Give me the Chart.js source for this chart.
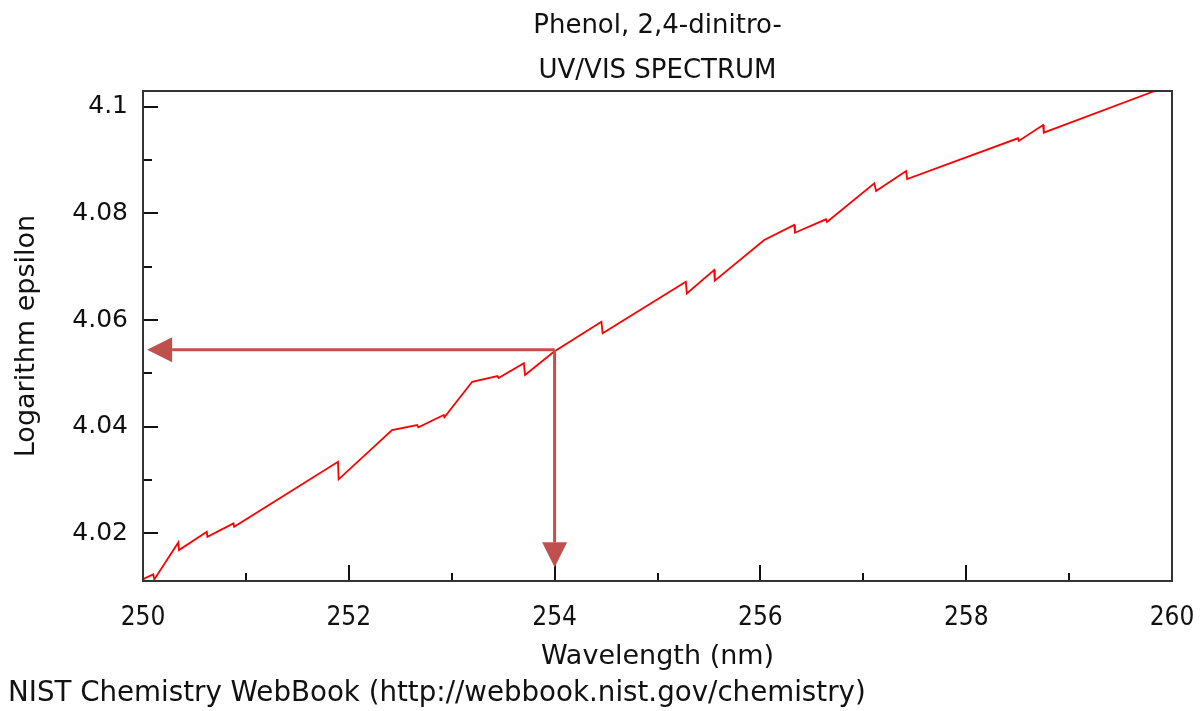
<!DOCTYPE html>
<html>
<head>
<meta charset="utf-8">
<script src="https://cdn.jsdelivr.net/npm/chart.js@4/dist/chart.umd.min.js"></script>
<style>
  html, body { margin: 0; padding: 0; background: #ffffff; }
  #wrap { width: 1201px; height: 711px; }
</style>
</head>
<body>
<div id="wrap"><canvas id="c" width="1201" height="711"></canvas></div>
<script>
// ---- Data ----
const titleLines = ['Phenol, 2,4-dinitro-', 'UV/VIS SPECTRUM'];
const xAxisTitle = 'Wavelength (nm)';
const yAxisTitle = 'Logarithm epsilon';
const footerText = 'NIST Chemistry WebBook (http://webbook.nist.gov/chemistry)';

const wavelength = [
  250.000, 250.013, 250.100, 250.110, 250.343, 250.350, 250.620, 250.626,
  250.879, 250.886, 251.895, 251.901, 252.420, 252.664, 252.676, 252.923,
  252.929, 253.199, 253.445, 253.455, 253.701, 253.713, 253.993, 254.455,
  254.467, 255.275, 255.285, 255.550, 255.557, 256.037, 256.329, 256.336,
  256.637, 256.647, 257.107, 257.124, 257.416, 257.426, 258.503, 258.511,
  258.747, 258.754, 259.833
];
const logEpsilon = [
  4.01117, 4.01149, 4.01224, 4.01130, 4.01825, 4.01681, 4.02024, 4.01930,
  4.02182, 4.02118, 4.03339, 4.03008, 4.03934, 4.04028, 4.03985, 4.04216,
  4.04173, 4.04841, 4.04948, 4.04911, 4.05187, 4.04967, 4.05405, 4.05968,
  4.05750, 4.06719, 4.06501, 4.06939, 4.06738, 4.07502, 4.07784, 4.07639,
  4.07891, 4.07840, 4.08567, 4.08423, 4.08798, 4.08648, 4.09412, 4.09362,
  4.09662, 4.09517, 4.10300
];

const xTicks = [250, 251, 252, 253, 254, 255, 256, 257, 258, 259, 260];
const yTicks = [4.02, 4.03, 4.04, 4.05, 4.06, 4.07, 4.08, 4.09, 4.10];
const xRange = [250, 260];
const yRange = [4.011, 4.103];

// marker (crosshair arrows) : point on the curve and arrow tips
const markerWavelength = [254];
const markerLogEpsilon = [4.0544];
const arrowTipWavelength = [250.04];
const arrowTipLogEpsilon = [4.0136];

// ---- Styling ----
const FONT = '"DejaVu Sans", Verdana, sans-serif';
const FONT_COND = '"DejaVu Sans Condensed", "DejaVu Sans", sans-serif';
const AXIS_COLOR = '#333333';
const ARROW_COLOR = '#c0504d';

const points = wavelength.map((w, i) => ({ x: w, y: logEpsilon[i] }));

const isMajorX = v => Math.round(v) % 2 === 0;
const isMajorY = v => Math.round(v * 100) % 2 === 0;

const framePlugin = {
  id: 'frameAndDecor',
  afterDraw(chart) {
    const ctx = chart.ctx;
    const a = chart.chartArea;
    const xs = chart.scales.x, ys = chart.scales.y;
    ctx.save();

    // inward tick marks
    ctx.strokeStyle = '#111111';
    ctx.lineWidth = 2;
    xs.ticks.forEach(t => {
      const px = Math.round(xs.getPixelForValue(t.value));
      const len = isMajorX(t.value) ? 16 : 8;
      ctx.beginPath();
      ctx.moveTo(px, a.bottom);
      ctx.lineTo(px, a.bottom - len);
      ctx.stroke();
    });
    ys.ticks.forEach(t => {
      const py = Math.round(ys.getPixelForValue(t.value));
      const len = isMajorY(t.value) ? 15 : 9;
      ctx.beginPath();
      ctx.moveTo(a.left, py);
      ctx.lineTo(a.left + len, py);
      ctx.stroke();
    });

    // frame
    ctx.strokeStyle = AXIS_COLOR;
    ctx.lineWidth = 2;
    ctx.strokeRect(a.left, a.top, a.right - a.left, a.bottom - a.top);

    // marker arrows
    for (let i = 0; i < markerWavelength.length; i++) {
      const mx = xs.getPixelForValue(markerWavelength[i]);
      const my = ys.getPixelForValue(markerLogEpsilon[i]);
      const hx = xs.getPixelForValue(arrowTipWavelength[i]);
      const vy = ys.getPixelForValue(arrowTipLogEpsilon[i]);
      const head = 25, half = 12.5;
      ctx.strokeStyle = ARROW_COLOR;
      ctx.fillStyle = ARROW_COLOR;
      ctx.lineWidth = 3;
      ctx.beginPath();
      ctx.moveTo(mx, my);
      ctx.lineTo(hx + head, my);
      ctx.moveTo(mx, my);
      ctx.lineTo(mx, vy - head);
      ctx.stroke();
      ctx.beginPath();
      ctx.moveTo(hx, my);
      ctx.lineTo(hx + head, my - half);
      ctx.lineTo(hx + head, my + half);
      ctx.closePath();
      ctx.fill();
      ctx.beginPath();
      ctx.moveTo(mx, vy);
      ctx.lineTo(mx - half, vy - head);
      ctx.lineTo(mx + half, vy - head);
      ctx.closePath();
      ctx.fill();
    }

    // titles
    const cx = (a.left + a.right) / 2;
    ctx.fillStyle = '#111111';
    ctx.font = '26px ' + FONT;
    ctx.textAlign = 'center';
    ctx.textBaseline = 'alphabetic';
    ctx.fillText(titleLines[0], cx, 33);
    ctx.fillText(titleLines[1], cx, 78);

    // footer
    ctx.font = '27.7px ' + FONT;
    ctx.textAlign = 'left';
    ctx.fillText(footerText, 8, 701);
    ctx.restore();
  }
};

new Chart(document.getElementById('c'), {
  type: 'scatter',
  data: {
    datasets: [{
      data: points,
      showLine: true,
      borderColor: '#ff0000',
      borderWidth: 1.8,
      pointRadius: 0,
      tension: 0,
      fill: false
    }]
  },
  options: {
    responsive: false,
    animation: false,
    devicePixelRatio: 1,
    layout: { padding: { top: 91, right: 29, left: 0, bottom: 0 } },
    plugins: {
      legend: { display: false },
      tooltip: { enabled: false },
      title: { display: false }
    },
    scales: {
      x: {
        type: 'linear',
        min: xRange[0],
        max: xRange[1],
        afterBuildTicks: s => { s.ticks = xTicks.map(v => ({ value: v })); },
        afterFit: s => { s.height = 130; s.paddingLeft = 0; s.paddingRight = 0; },
        grid: { display: false, drawTicks: false },
        border: { display: false },
        ticks: {
          autoSkip: false,
          maxRotation: 0,
          padding: 22,
          color: '#111111',
          font: { family: FONT_COND, size: 26 },
          callback: v => isMajorX(v) ? String(v) : ''
        },
        title: {
          display: true,
          text: xAxisTitle,
          color: '#111111',
          font: { family: FONT, size: 27 },
          padding: { top: 0, bottom: 38 }
        }
      },
      y: {
        type: 'linear',
        min: yRange[0],
        max: yRange[1],
        afterBuildTicks: s => { s.ticks = yTicks.map(v => ({ value: v })); },
        afterFit: s => { s.width = 143; s.paddingTop = 0; s.paddingBottom = 0; },
        grid: { display: false, drawTicks: false },
        border: { display: false },
        ticks: {
          autoSkip: false,
          padding: 15,
          color: '#111111',
          font: { family: FONT, size: 25 },
          callback: v => isMajorY(v) ? String(+v.toFixed(2)) : ''
        },
        title: {
          display: true,
          text: yAxisTitle,
          color: '#111111',
          font: { family: FONT, size: 27 },
          padding: { top: 11, bottom: 0 }
        }
      }
    }
  },
  plugins: [framePlugin]
});
</script>
</body>
</html>
